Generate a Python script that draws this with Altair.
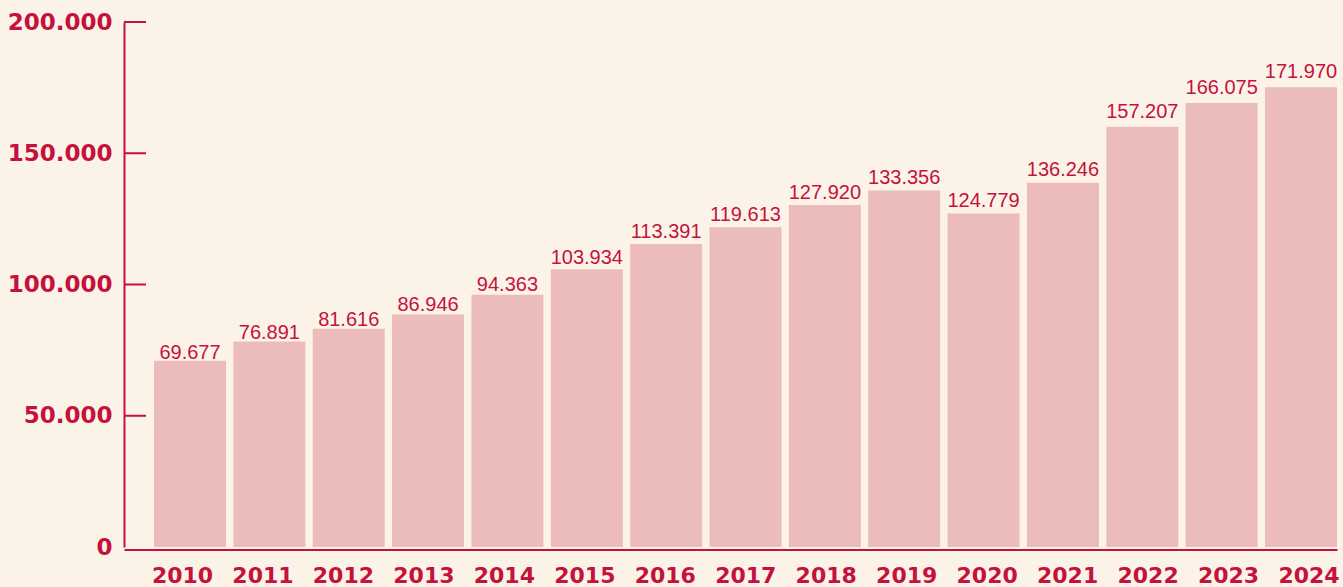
import altair as alt
import pandas as pd

# ---- data ----
years = ["2010", "2011", "2012", "2013", "2014", "2015", "2016", "2017",
         "2018", "2019", "2020", "2021", "2022", "2023", "2024"]
values = [69677, 76891, 81616, 86946, 94363, 103934, 113391, 119613,
          127920, 133356, 124779, 136246, 157207, 166075, 171970]
axis_ticks = [0, 50000, 100000, 150000, 200000]

CRIMSON = "#c4123c"
BAR = "#ebbcb9"
BG = "#fcf3e8"

df = pd.DataFrame({"year": years, "value": values})
ticks_df = pd.DataFrame({"tick": axis_ticks[1:]})

x_enc = alt.X(
    "year:N",
    sort=years,
    scale=alt.Scale(paddingInner=0.093, paddingOuter=0.189, align=1),
    axis=alt.Axis(
        title=None, labelAngle=0, ticks=False, tickSize=0,
        domainColor=CRIMSON, domainWidth=2.2, offset=2.5,
        labelPadding=16, labelFont="DejaVu Sans", labelFontWeight="bold",
        labelFontSize=22, labelColor=CRIMSON,
        labelOffset={"expr": "-7.5 + 15.5*datum.index"},
    ),
)

bars = alt.Chart(df).mark_bar(color=BAR).encode(
    x=x_enc,
    y=alt.Y("value:Q", scale=alt.Scale(domain=[0, 196400], nice=False), axis=None),
)

labels = alt.Chart(df).mark_text(
    font="Liberation Sans", fontSize=20, color=CRIMSON,
    align="center", baseline="alphabetic", dy=3,
).encode(
    x=alt.X("year:N", sort=years),
    y=alt.Y("value:Q", scale=alt.Scale(domain=[0, 191100], nice=False), axis=None),
    text=alt.Text("value:Q", format=",d"),
)

rules = alt.Chart(ticks_df).mark_rule(color=CRIMSON, strokeWidth=2).encode(
    y=alt.Y(
        "tick:Q",
        scale=alt.Scale(domain=[0, 200000], nice=False),
        axis=alt.Axis(
            values=axis_ticks, format=",d", title=None, ticks=False, tickSize=0,
            grid=False, domainColor=CRIMSON, domainWidth=2, labelPadding=12,
            labelFont="DejaVu Sans", labelFontWeight="bold", labelFontSize=23,
            labelColor=CRIMSON,
        ),
    ),
    x=alt.value(0),
    x2=alt.value(22),
)

chart = (
    alt.layer(bars, labels, rules)
    .resolve_scale(y="independent")
    .properties(
        width=1213,
        height=525,
        padding={"left": 124, "top": 22, "right": 6, "bottom": 40},
        autosize=alt.AutoSizeParams(type="none"),
        background=BG,
    )
    .configure(
        locale={"number": {"decimal": ",", "thousands": ".", "grouping": [3],
                           "currency": ["", "\u00a0€"]}},
    )
    .configure_view(stroke="transparent")
)

chart.save("out.html", embed_options={"renderer": "svg", "actions": False})
